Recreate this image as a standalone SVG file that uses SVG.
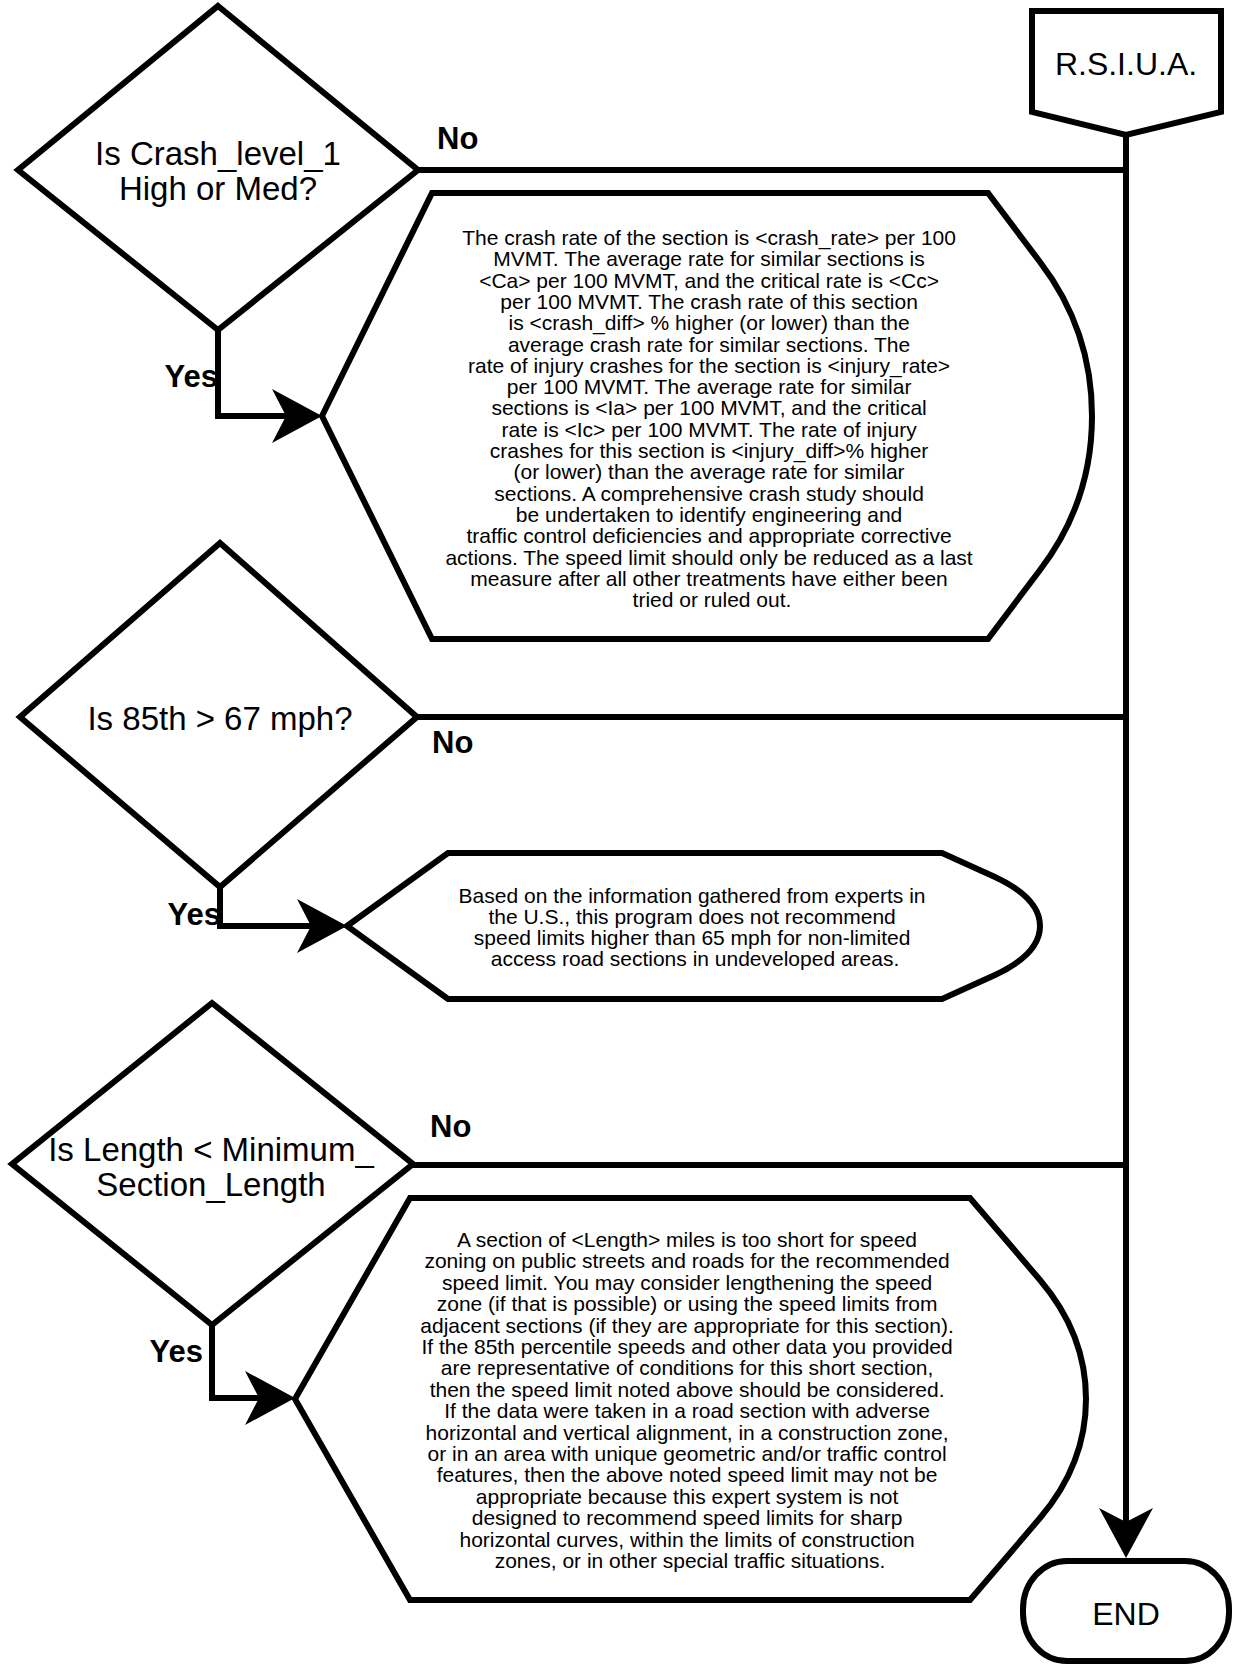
<svg xmlns="http://www.w3.org/2000/svg" width="1238" height="1665" viewBox="0 0 1238 1665">
<style>
.shape{fill:#fff;stroke:#000;stroke-width:6;stroke-linejoin:miter}
.conn{fill:none;stroke:#000;stroke-width:6;stroke-linejoin:miter}
text{font-family:"Liberation Sans",Arial,Helvetica,sans-serif;fill:#000}
.q{font-size:33px;text-anchor:middle}
.t{font-size:21px;text-anchor:middle}
.lbl{font-size:31px;font-weight:bold}
.term{font-size:32px;text-anchor:middle}
</style>
<defs>
<marker id="arr" markerUnits="userSpaceOnUse" viewBox="0 0 50 54" refX="30" refY="27" markerWidth="50" markerHeight="54" orient="auto">
<path d="M0,0 L50,27 L0,54 L14,27 Z" fill="#000"/>
</marker>
</defs>
<rect x="0" y="0" width="1238" height="1665" fill="#fff"/>

<g id="connectors">
<path class="conn" d="M418,170 H1126"/>
<path class="conn" d="M417,717 H1126"/>
<path class="conn" d="M413,1165 H1126"/>
<path class="conn" d="M1126,135 V1538" marker-end="url(#arr)"/>
<path class="conn" d="M218,330 V416 H302" marker-end="url(#arr)"/>
<path class="conn" d="M220,887 V926 H327" marker-end="url(#arr)"/>
<path class="conn" d="M212,1325 V1398 H275" marker-end="url(#arr)"/>
<text class="lbl" x="437" y="149">No</text>
<text class="lbl" x="432" y="753">No</text>
<text class="lbl" x="430" y="1137">No</text>
<text class="lbl" x="218" y="387" text-anchor="end">Yes</text>
<text class="lbl" x="221" y="925" text-anchor="end">Yes</text>
<text class="lbl" x="203" y="1362" text-anchor="end">Yes</text>
</g>

<g id="start">
<polygon class="shape" points="1032,11 1221,11 1221,112 1126,135 1032,112"/>
<text class="term" x="1126" y="75">R.S.I.U.A.</text>
</g>

<g id="decision1">
<polygon class="shape" points="218,6 418,170 218,330 18,170"/>
<text class="q" x="218" y="165">Is Crash_level_1</text>
<text class="q" x="218" y="200">High or Med?</text>
</g>

<g id="message1">
<path class="shape" d="M322,416 L432,193 L988,193 L1040,262 Q1092,330 1092,416 Q1092,502 1040,570 L988,639 L432,639 Z"/>
<text class="t" x="712" y="245">
<tspan x="712" dy="0">The crash rate of the section is &lt;crash_rate&gt; per 100</tspan>
<tspan x="712" dy="21.3">MVMT. The average rate for similar sections is</tspan>
<tspan x="712" dy="21.3">&lt;Ca&gt; per 100 MVMT, and the critical rate is &lt;Cc&gt;</tspan>
<tspan x="712" dy="21.3">per 100 MVMT. The crash rate of this section</tspan>
<tspan x="712" dy="21.3">is &lt;crash_diff&gt; % higher (or lower) than the</tspan>
<tspan x="712" dy="21.3">average crash rate for similar sections. The</tspan>
<tspan x="712" dy="21.3">rate of injury crashes for the section is &lt;injury_rate&gt;</tspan>
<tspan x="712" dy="21.3">per 100 MVMT. The average rate for similar</tspan>
<tspan x="712" dy="21.3">sections is &lt;Ia&gt; per 100 MVMT, and the critical</tspan>
<tspan x="712" dy="21.3">rate is &lt;Ic&gt; per 100 MVMT. The rate of injury</tspan>
<tspan x="712" dy="21.3">crashes for this section is  &lt;injury_diff&gt;% higher</tspan>
<tspan x="712" dy="21.3">(or lower) than the average rate for similar</tspan>
<tspan x="712" dy="21.3">sections. A comprehensive crash study should</tspan>
<tspan x="712" dy="21.3">be undertaken to identify engineering and</tspan>
<tspan x="712" dy="21.3">traffic control deficiencies and appropriate corrective</tspan>
<tspan x="712" dy="21.3">actions. The speed limit should only be reduced as a last</tspan>
<tspan x="712" dy="21.3">measure after all other treatments have either been</tspan>
<tspan x="712" dy="21.3">tried or ruled out.</tspan>
</text>
</g>

<g id="decision2">
<polygon class="shape" points="220,543 417,717 220,887 20,717"/>
<text class="q" x="220" y="730">Is 85th &gt; 67 mph?</text>
</g>

<g id="message2">
<path class="shape" d="M347,926 L448,853 L942,853 L995,877 Q1040,898 1040,926 Q1040,954 995,975 L942,999 L448,999 Z"/>
<text class="t" x="695" y="902.5">
<tspan x="695" dy="0">Based on the information gathered from experts in</tspan>
<tspan x="695" dy="21.3">the U.S., this program does not recommend</tspan>
<tspan x="695" dy="21.3">speed limits higher than 65 mph for non-limited</tspan>
<tspan x="695" dy="21.3">access road sections in undeveloped areas.</tspan>
</text>
</g>

<g id="decision3">
<polygon class="shape" points="212,1003 413,1164 212,1325 12,1164"/>
<text class="q" x="211" y="1161">Is Length &lt; Minimum_</text>
<text class="q" x="211" y="1196">Section_Length</text>
</g>

<g id="message3">
<path class="shape" d="M295,1399 L410,1198 L970,1198 L1040,1280 Q1086,1334 1086,1399 Q1086,1464 1040,1518 L970,1600 L410,1600 Z"/>
<text class="t" x="690" y="1247">
<tspan x="690" dy="0">A section of &lt;Length&gt; miles is too short for speed</tspan>
<tspan x="690" dy="21.4">zoning on public streets and roads for the recommended</tspan>
<tspan x="690" dy="21.4">speed limit. You may consider lengthening the speed</tspan>
<tspan x="690" dy="21.4">zone (if that is possible) or using the speed limits from</tspan>
<tspan x="690" dy="21.4">adjacent sections (if they are appropriate for this section).</tspan>
<tspan x="690" dy="21.4">If the 85th percentile speeds and other data you provided</tspan>
<tspan x="690" dy="21.4">are representative of conditions for this short section,</tspan>
<tspan x="690" dy="21.4">then the speed limit noted above should be considered.</tspan>
<tspan x="690" dy="21.4">If the data were taken in a road section with adverse</tspan>
<tspan x="690" dy="21.4">horizontal and vertical alignment, in a construction zone,</tspan>
<tspan x="690" dy="21.4">or in an area with unique geometric and/or traffic control</tspan>
<tspan x="690" dy="21.4">features, then the above noted speed limit may not be</tspan>
<tspan x="690" dy="21.4">appropriate because this expert system is not</tspan>
<tspan x="690" dy="21.4">designed to recommend speed limits for sharp</tspan>
<tspan x="690" dy="21.4">horizontal curves, within the limits of construction</tspan>
<tspan x="690" dy="21.4">zones, or in other special traffic situations.</tspan>
</text>
</g>

<g id="end">
<rect class="shape" x="1023" y="1561" width="206" height="100" rx="44" ry="48"/>
<text class="term" x="1126" y="1625">END</text>
</g>
</svg>
